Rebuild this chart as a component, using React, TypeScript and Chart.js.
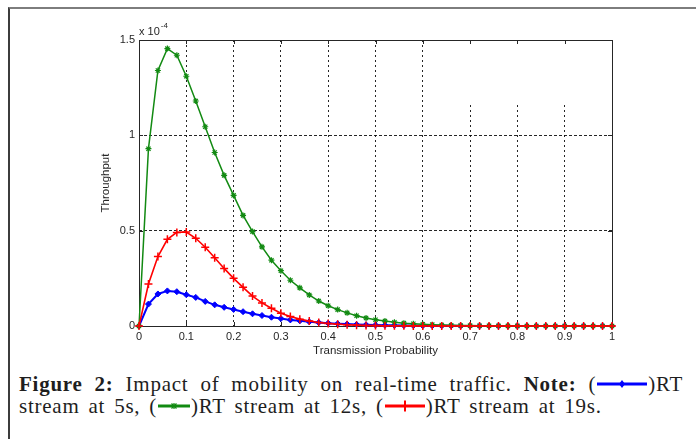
import React, { useEffect, useRef } from "react";
import { Chart, registerables } from "chart.js";

Chart.register(...registerables);

// ---------- data ----------
const probability = [
  0, 0.02, 0.04, 0.06, 0.08, 0.1, 0.12, 0.14, 0.16, 0.18,
  0.2, 0.22, 0.24, 0.26, 0.28, 0.3, 0.32, 0.34, 0.36, 0.38,
  0.4, 0.42, 0.44, 0.46, 0.48, 0.5, 0.52, 0.54, 0.56, 0.58,
  0.6, 0.62, 0.64, 0.66, 0.68, 0.7, 0.72, 0.74, 0.76, 0.78,
  0.8, 0.82, 0.84, 0.86, 0.88, 0.9, 0.92, 0.94, 0.96, 0.98, 1.0,
];

// throughput in units of 1e-4
const rtStream5s = [
  0, 0.115, 0.168, 0.184, 0.18, 0.164, 0.15, 0.129, 0.111, 0.098,
  0.087, 0.075, 0.064, 0.055, 0.046, 0.039, 0.032, 0.027, 0.022, 0.018,
  0.015, 0.012, 0.01, 0.008, 0.0065, 0.005, 0.004, 0.0033, 0.0026, 0.002,
  0.0016, 0.0013, 0.001, 0.0008, 0.0006, 0.0005, 0.0004, 0.0003, 0.00025, 0.0002,
  0.00015, 0.0001, 0.0001, 0.0001, 0.0001, 0.0001, 0.0001, 0.0001, 0.0001, 0.0001, 0.0001,
];

const rtStream12s = [
  0, 0.93, 1.34, 1.455, 1.42, 1.31, 1.18, 1.045, 0.91, 0.79,
  0.685, 0.58, 0.495, 0.415, 0.345, 0.29, 0.24, 0.2, 0.163, 0.131,
  0.106, 0.086, 0.069, 0.054, 0.042, 0.033, 0.026, 0.02, 0.015, 0.012,
  0.009, 0.007, 0.005, 0.004, 0.003, 0.0022, 0.0016, 0.0012, 0.0009, 0.0007,
  0.0005, 0.0004, 0.0003, 0.0002, 0.00015, 0.0001, 0.0001, 0.00005, 0.00005, 0.00003, 0.00002,
];

const rtStream19s = [
  0, 0.22, 0.364, 0.455, 0.491, 0.493, 0.46, 0.413, 0.358, 0.302,
  0.25, 0.203, 0.157, 0.121, 0.093, 0.067, 0.05, 0.036, 0.026, 0.018,
  0.013, 0.009, 0.0065, 0.0045, 0.003, 0.002, 0.0014, 0.001, 0.0007, 0.0005,
  0.0003, 0.0002, 0.00015, 0.0001, 0.00007, 0.00005, 0.00003, 0.00002, 0.00001, 0.00001,
  0.00001, 0.00001, 0.00001, 0.00001, 0.00001, 0.00001, 0.00001, 0.00001, 0.00001, 0.00001, 0.00001,
];

const xTickLabels = ["0", "0.1", "0.2", "0.3", "0.4", "0.5", "0.6", "0.7", "0.8", "0.9", "1"];
const yTickLabels = ["0", "0.5", "1", "1.5"];
const yExponentBase = "x 10";
const yExponentPower = "-4";
const xAxisTitle = "Transmission Probability";
const yAxisTitle = "Throughput";

// region (in data values) where the reference's grid lines are missing
const gridGapX = [0.65, 0.95];
const gridGapTopY = 1.16;

const FONT = "'Liberation Sans', Arial, Helvetica, sans-serif";

const matlabAxesPlugin = {
  id: "matlabAxes",
  beforeDatasetsDraw(chart: any) {
    const { ctx, chartArea, scales } = chart;
    const xs = scales.x;
    const ys = scales.y;
    const { left, right, top, bottom } = chartArea;
    ctx.save();
    const gx1 = xs.getPixelForValue(gridGapX[0]);
    const gx2 = xs.getPixelForValue(gridGapX[1]);
    const gy = ys.getPixelForValue(gridGapTopY);
    ctx.fillStyle = "#ffffff";
    ctx.fillRect(gx1, top + 1, gx2 - gx1, gy - top - 1);
    ctx.strokeStyle = "#262626";
    ctx.lineWidth = 1;
    ctx.setLineDash([]);
    ctx.strokeRect(Math.round(left) + 0.5, Math.round(top) + 0.5, Math.round(right - left), Math.round(bottom - top));
    const tl = 4;
    ctx.beginPath();
    xs.ticks.forEach((t: any) => {
      const px = Math.round(xs.getPixelForValue(t.value)) + 0.5;
      ctx.moveTo(px, bottom);
      ctx.lineTo(px, bottom - tl);
      ctx.moveTo(px, top);
      ctx.lineTo(px, top + tl);
    });
    ys.ticks.forEach((t: any) => {
      const py = Math.round(ys.getPixelForValue(t.value)) + 0.5;
      ctx.moveTo(left, py);
      ctx.lineTo(left + tl, py);
      ctx.moveTo(right, py);
      ctx.lineTo(right - tl, py);
    });
    ctx.stroke();
    ctx.restore();
  },
  afterDraw(chart: any) {
    const { ctx, chartArea } = chart;
    ctx.save();
    ctx.fillStyle = "#262626";
    ctx.textBaseline = "alphabetic";
    ctx.textAlign = "left";
    ctx.font = `11px ${FONT}`;
    const baseX = chartArea.left;
    const baseY = chartArea.top - 5;
    ctx.fillText(yExponentBase, baseX, baseY);
    const w = ctx.measureText(yExponentBase).width;
    ctx.font = `8px ${FONT}`;
    ctx.fillText(yExponentPower, baseX + w + 1, baseY - 7);
    ctx.restore();
  },
};

function ChartCanvas() {
  const ref = useRef<HTMLCanvasElement | null>(null);
  useEffect(() => {
    if (!ref.current) return;
    const mk = (vals: number[]) => probability.map((x, i) => ({ x, y: vals[i] }));
    const chart = new Chart(ref.current, {
      type: "line",
      data: {
        datasets: [
          {
            label: "RT stream at 19s",
            data: mk(rtStream19s),
            borderColor: "#ff0000",
            backgroundColor: "#ff0000",
            borderWidth: 1.6,
            pointStyle: "cross",
            pointRadius: 4,
            pointBorderWidth: 1.5,
            pointBorderColor: "#ff0000",
            tension: 0,
            clip: false,
          },
          {
            label: "RT stream at 12s",
            data: mk(rtStream12s),
            borderColor: "#128a12",
            backgroundColor: "#128a12",
            borderWidth: 1.5,
            pointStyle: "star",
            pointRadius: 3,
            pointBorderWidth: 1.2,
            pointBorderColor: "#128a12",
            tension: 0,
            clip: false,
          },
          {
            label: "RT stream at 5s",
            data: mk(rtStream5s),
            borderColor: "#0000ff",
            backgroundColor: "#0000ff",
            borderWidth: 2,
            pointStyle: "rectRot",
            pointRadius: 3,
            pointBorderWidth: 1,
            pointBorderColor: "#0000ff",
            tension: 0,
            clip: false,
          },
        ],
      },
      options: {
        animation: false,
        responsive: false,
        devicePixelRatio: 1,
        layout: { padding: { top: 40, right: 84, left: 0, bottom: 0 } },
        plugins: { legend: { display: false }, tooltip: { enabled: false } },
        font: { family: FONT },
        scales: {
          x: {
            type: "linear",
            min: 0,
            max: 1,
            afterFit: (s: any) => {
              s.height = 39;
            },
            ticks: {
              stepSize: 0.1,
              padding: 4,
              color: "#262626",
              font: { family: FONT, size: 11 },
              maxRotation: 0,
              autoSkip: false,
              callback: (_v: any, i: number) => xTickLabels[i],
            },
            grid: { drawTicks: false, color: "rgba(0,0,0,0.85)", lineWidth: 1 },
            border: { display: false, dash: [2, 3] },
            title: {
              display: true,
              text: xAxisTitle,
              color: "#262626",
              font: { family: FONT, size: 11.5 },
              padding: { top: 0, bottom: 7 },
            },
          },
          y: {
            type: "linear",
            min: 0,
            max: 1.5,
            afterFit: (s: any) => {
              s.width = 139;
            },
            ticks: {
              stepSize: 0.5,
              padding: 4,
              color: "#262626",
              font: { family: FONT, size: 11 },
              callback: (_v: any, i: number) => yTickLabels[i],
            },
            grid: { drawTicks: false, color: "rgba(0,0,0,0.85)", lineWidth: 1 },
            border: { display: false, dash: [3, 2] },
            title: {
              display: true,
              text: yAxisTitle,
              color: "#262626",
              font: { family: FONT, size: 11.5 },
              padding: { top: 99, bottom: 0 },
            },
          },
        },
      } as any,
      plugins: [matlabAxesPlugin],
    });
    return () => chart.destroy();
  }, []);
  return <canvas ref={ref} width={696} height={365} style={{ position: "absolute", left: 0, top: 0 }} />;
}

function Icon({ color, kind, width }: { color: string; kind: "diamond" | "star" | "plus"; width: number }) {
  const w = width;
  const h = 12;
  const cx = w / 2;
  const cy = h / 2;
  let marker: React.ReactNode = null;
  if (kind === "diamond") {
    marker = <polygon points={`${cx},${cy - 4} ${cx + 3},${cy} ${cx},${cy + 4} ${cx - 3},${cy}`} fill={color} />;
  } else if (kind === "star") {
    marker = (
      <g stroke={color} strokeWidth={1.2}>
        <line x1={cx - 2.5} y1={cy - 2.5} x2={cx + 2.5} y2={cy + 2.5} />
        <line x1={cx + 2.5} y1={cy - 2.5} x2={cx - 2.5} y2={cy + 2.5} />
        <line x1={cx} y1={cy - 3} x2={cx} y2={cy + 3} />
      </g>
    );
  } else {
    marker = <line x1={cx} y1={cy - 5.5} x2={cx} y2={cy + 5.5} stroke={color} strokeWidth={2} />;
  }
  return (
    <svg width={w} height={h} style={{ verticalAlign: "1px", display: "inline-block", margin: "0 1px", letterSpacing: 0 }}>
      <line x1={0} y1={cy} x2={w} y2={cy} stroke={color} strokeWidth={3} />
      {marker}
    </svg>
  );
}

export default function App() {
  useEffect(() => {
    document.body.style.margin = "0";
  }, []);
  const captionStyle: React.CSSProperties = {
    fontFamily: "'Liberation Serif', 'Times New Roman', serif",
    fontSize: 21,
    lineHeight: "22px",
    letterSpacing: "0.75px",
    wordSpacing: "3px",
    color: "#1e1e1e",
  };
  return (
    <div style={{ position: "absolute", left: 0, top: 0, width: 696, height: 439, overflow: "hidden", background: "#fff" }}>
      <div
        style={{
          position: "absolute",
          left: 8,
          top: 7,
          width: 700,
          height: 440,
          borderTop: "2px solid #7d7d7d",
          borderLeft: "2px solid #3c3c3c",
          boxSizing: "border-box",
        }}
      />
      <ChartCanvas />
      <div style={{ position: "absolute", left: 19, top: 373, width: 664, ...captionStyle }}>
        <div style={{ textAlign: "justify", textAlignLast: "justify", whiteSpace: "nowrap" as any }}>
          <b>Figure 2:</b> Impact of mobility on real-time traffic. <b>Note:</b> (<Icon color="#0000ff" kind="diamond" width={50} />)RT
        </div>
        <div style={{ whiteSpace: "nowrap" as any }}>
          stream at 5s, (<Icon color="#128a12" kind="star" width={32} />)RT stream at 12s, (<Icon color="#ff0000" kind="plus" width={40} />)RT stream at 19s.
        </div>
      </div>
    </div>
  );
}
